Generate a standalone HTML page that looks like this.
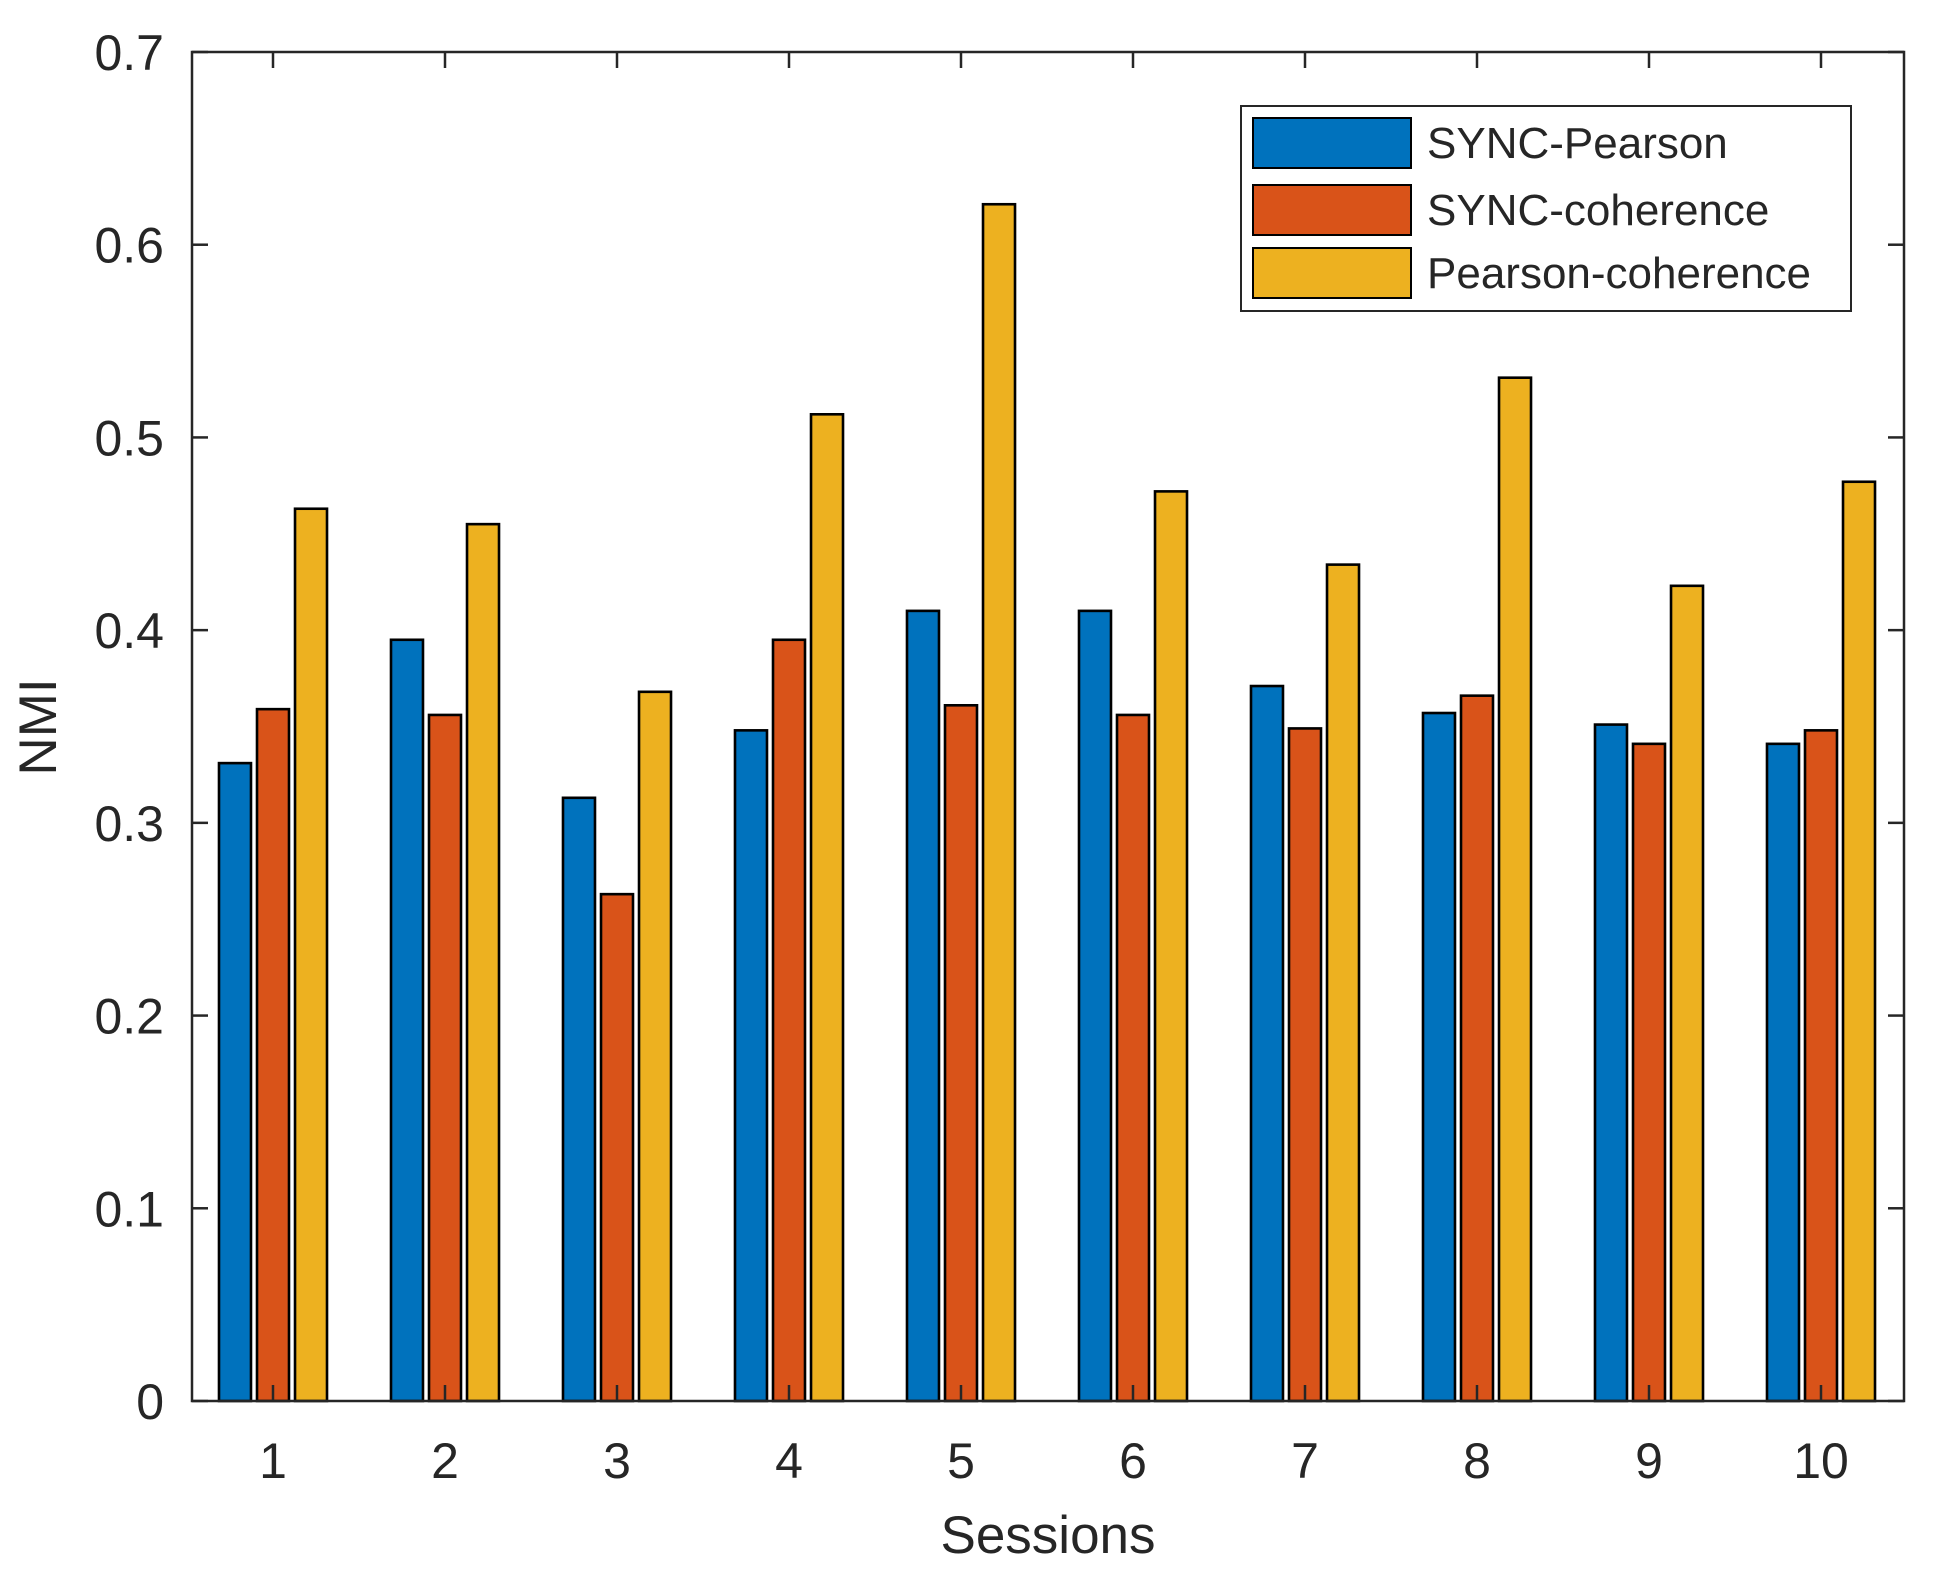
<!DOCTYPE html>
<html><head><meta charset="utf-8"><style>
html,body{margin:0;padding:0;background:#fff;}
svg{display:block;font-family:"Liberation Sans",Arial,sans-serif;}
</style></head><body>
<svg id="chart" width="1936" height="1588" viewBox="0 0 1936 1588" xmlns="http://www.w3.org/2000/svg">
<rect x="0" y="0" width="1936" height="1588" fill="#fff"/>
<g id="bars"></g>
<g id="axes"></g>
<g id="legend"></g>
</svg>
<script>
const categories = ["1","2","3","4","5","6","7","8","9","10"];
const seriesNames = ["SYNC-Pearson","SYNC-coherence","Pearson-coherence"];
const syncPearson = [0.331,0.395,0.313,0.348,0.410,0.410,0.371,0.357,0.351,0.341];
const syncCoherence = [0.359,0.356,0.263,0.395,0.361,0.356,0.349,0.366,0.341,0.348];
const pearsonCoherence = [0.463,0.455,0.368,0.512,0.621,0.472,0.434,0.531,0.423,0.477];
const yTicks = [0,0.1,0.2,0.3,0.4,0.5,0.6,0.7];
const yTickLabels = ["0","0.1","0.2","0.3","0.4","0.5","0.6","0.7"];

const NS="http://www.w3.org/2000/svg";
const L=192,R=1904,T=52,B=1401;
const colors=["#0072BD","#D95319","#EDB120"];
const series=[syncPearson,syncCoherence,pearsonCoherence];
const UNIT=172;
function xs(v){return 273+(v-1)*UNIT;}
function ys(v){return B-v/0.7*(B-T);}
function mk(tag,attrs,parent){const e=document.createElementNS(NS,tag);for(const k in attrs)e.setAttribute(k,attrs[k]);parent.appendChild(e);return e;}

const gb=document.getElementById('bars');
series.forEach((s,si)=>{
  s.forEach((v,i)=>{
    const cx=xs(i+1+(si-1)*0.221), w=0.186*UNIT;
    const r=mk('rect',{x:cx-w/2,y:ys(v),width:w,height:ys(0)-ys(v),fill:colors[si],stroke:"#000","stroke-width":2.6},gb);
    
    
  });
});

const ga=document.getElementById('axes');
const box=mk('rect',{x:L,y:T,width:R-L,height:B-T,fill:"none",stroke:"#262626","stroke-width":2.5},ga);


yTicks.forEach((v,i)=>{
  const y=ys(v);
  mk('line',{x1:L,y1:y,x2:L+16,y2:y,stroke:"#262626","stroke-width":2.5},ga);
  mk('line',{x1:R,y1:y,x2:R-16,y2:y,stroke:"#262626","stroke-width":2.5},ga);
  const t=mk('text',{x:164,y:y+18,"text-anchor":"end","font-size":50,fill:"#262626"},ga);
  t.textContent=yTickLabels[i];
  
  
});
categories.forEach((c,i)=>{
  const x=xs(i+1);
  mk('line',{x1:x,y1:B,x2:x,y2:B-16,stroke:"#262626","stroke-width":2.5},ga);
  mk('line',{x1:x,y1:T,x2:x,y2:T+16,stroke:"#262626","stroke-width":2.5},ga);
  const t=mk('text',{x:x,y:1478,"text-anchor":"middle","font-size":50,fill:"#262626"},ga);
  t.textContent=c;
  
  
});
const xt=mk('text',{x:1048,y:1553,"text-anchor":"middle","font-size":53,fill:"#262626"},ga);
xt.textContent="Sessions";


const yt=mk('text',{x:0,y:0,"text-anchor":"middle","font-size":53,fill:"#262626",transform:"translate(56,727) rotate(-90)"},ga);
yt.textContent="NMI";



const gl=document.getElementById('legend');
const lb=mk('rect',{x:1241,y:106,width:610,height:205,fill:"#fff",stroke:"#262626","stroke-width":2},gl);


const rowsY=[118,185,248];
seriesNames.forEach((n,i)=>{
  const g=mk('g',{},gl);
  
  
  mk('rect',{x:1253,y:rowsY[i],width:158,height:50,fill:colors[i],stroke:"#000","stroke-width":2},g);
  const t=mk('text',{x:1427,y:rowsY[i]+40,"font-size":44,fill:"#262626"},g);
  t.textContent=n;
});
</script>
</body></html>
